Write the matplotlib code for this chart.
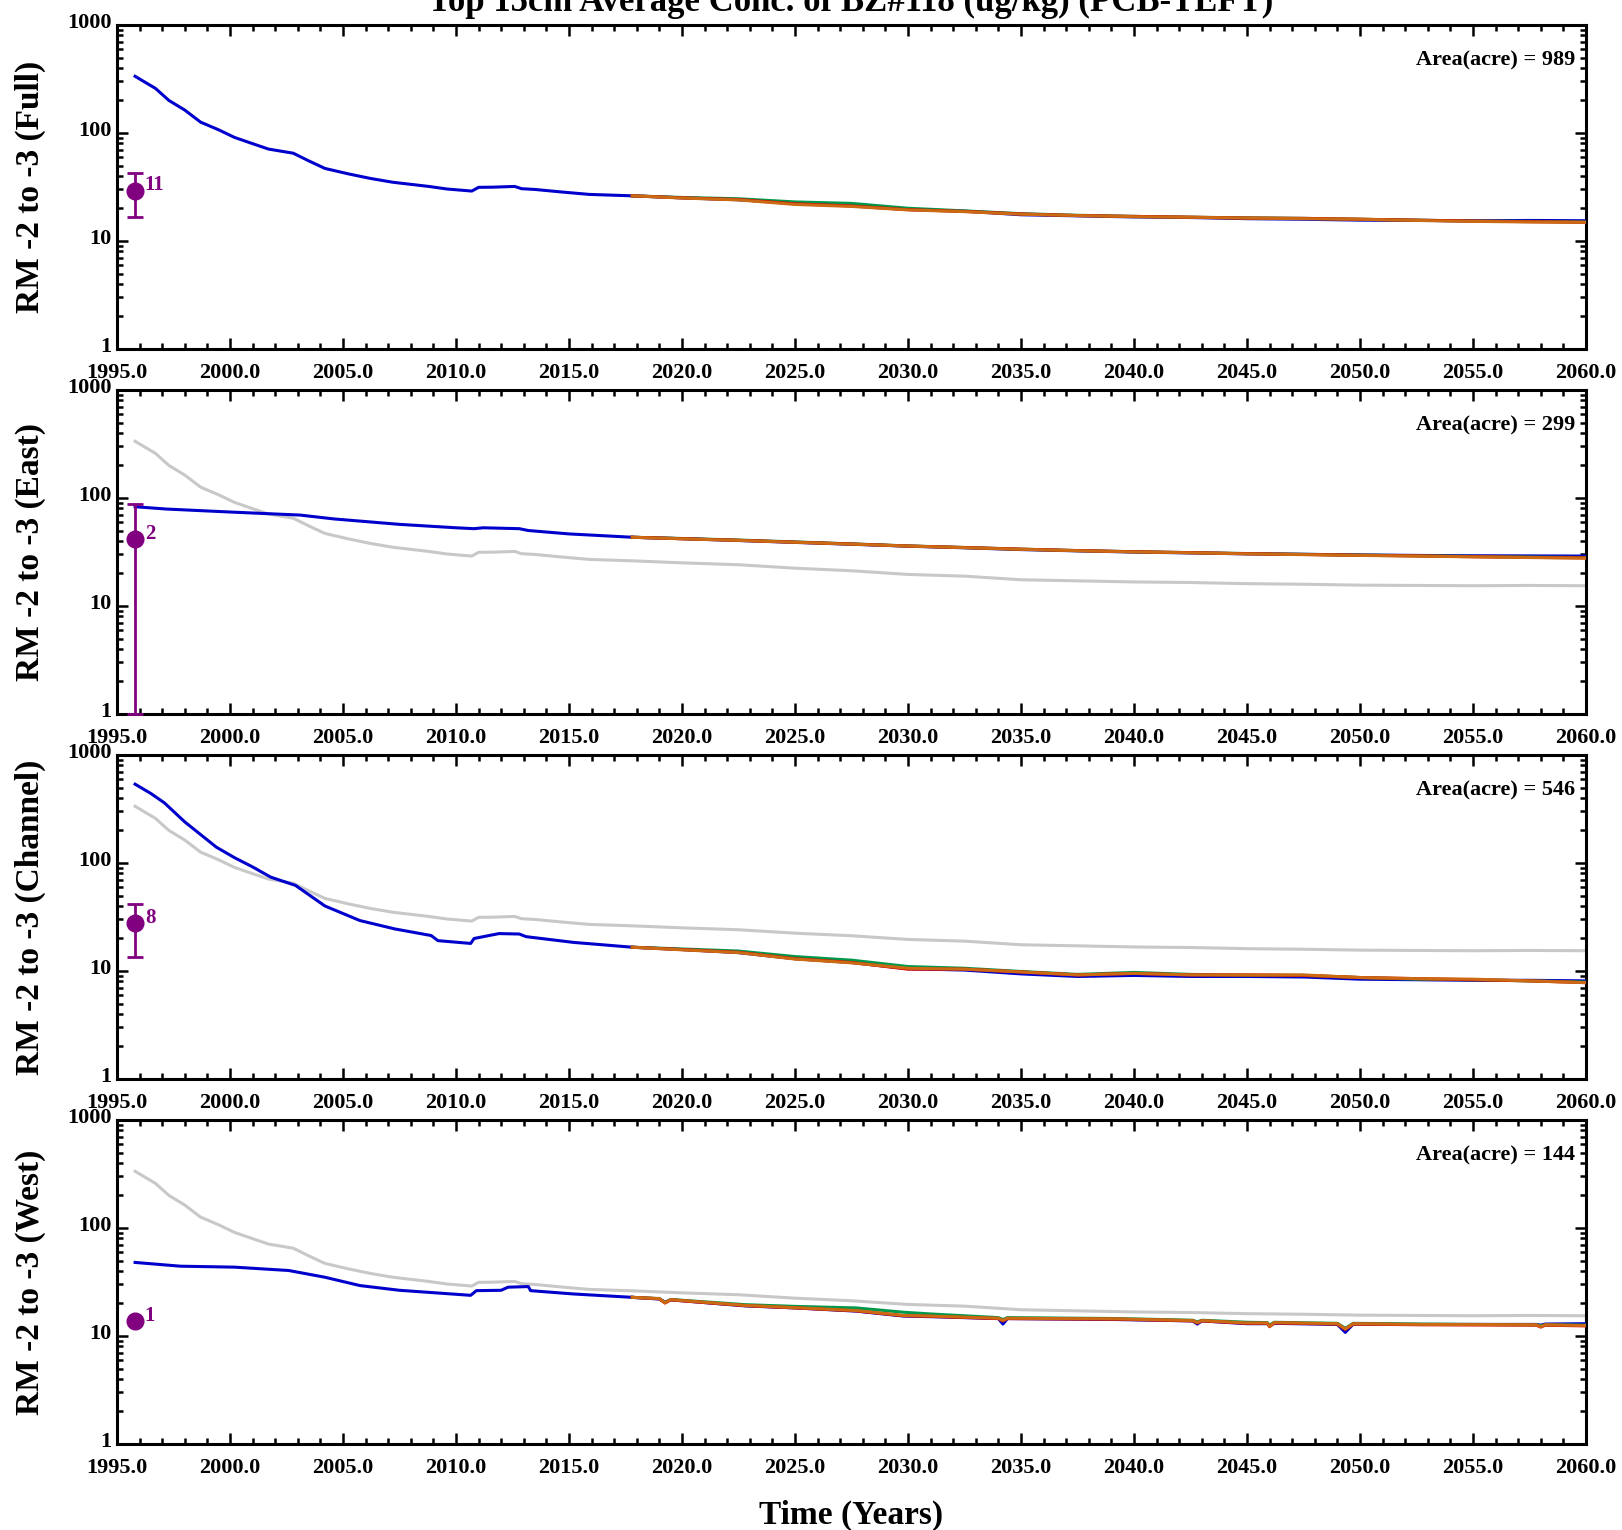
import matplotlib
matplotlib.use("Agg")
import matplotlib.pyplot as plt
import matplotlib.transforms as mtransforms
from matplotlib.ticker import MultipleLocator, FixedLocator, NullFormatter

plt.rcParams['font.family'] = ['Liberation Serif', 'DejaVu Serif']
plt.rcParams['font.weight'] = 'bold'

# --- data ---
full_hist_years = [1995.8, 1996.7, 1997.3, 1998.0, 1998.7, 1999.5, 2000.2, 2000.9, 2001.7, 2002.8,
                   2003.5, 2004.2, 2005.2, 2006.2, 2007.2, 2008.8, 2009.6, 2010.7, 2011.0, 2011.6,
                   2012.6, 2012.9, 2013.5, 2014.7, 2015.9, 2017.8]
full_hist = [335, 259, 200, 163, 126, 107, 91, 81, 71, 65,
             55, 47, 42, 38, 35, 32, 30.3, 29, 31.4, 31.5,
             32, 30.5, 30, 28.4, 27, 26.2]

east_hist_years = [1995.8, 1997.2, 2000.1, 2003.1, 2004.6, 2007.5, 2010.0, 2010.8, 2011.2, 2012.8,
                   2013.2, 2015.0, 2017.8]
east_hist = [83, 79, 74, 69.5, 64, 57, 53, 52, 53, 52, 50, 46.5, 43.3]

chan_hist_years = [1995.8, 1996.5, 1997.1, 1998.0, 1999.4, 2000.2, 2001.0, 2001.8, 2002.9, 2004.2,
                   2005.75, 2007.3, 2008.9, 2009.2, 2010.65, 2010.8, 2011.9, 2012.8, 2013.1, 2015.2,
                   2017.8]
chan_hist = [537, 440, 360, 240, 140, 112, 92, 74, 62, 40,
             29.3, 24.5, 21.3, 19.1, 18.0, 20.0, 22.2, 22.0, 20.8, 18.4,
             16.6]

west_hist_years = [1995.8, 1997.8, 2000.2, 2002.6, 2004.2, 2005.75, 2007.5, 2010.65, 2010.9, 2012.0,
                   2012.3, 2013.2, 2013.3, 2015.2, 2017.8]
west_hist = [48, 44.3, 43.4, 40.4, 35, 29.3, 26.5, 23.8, 26.3, 26.5,
             28.3, 28.7, 26.3, 24.5, 22.8]

proj_years = [2017.8, 2020.0, 2022.5, 2025.0, 2027.5, 2030.0, 2032.5, 2035.0, 2037.5, 2040.0,
              2042.5, 2045.0, 2047.5, 2050.0, 2052.5, 2055.0, 2057.5, 2060.0]

full_blue = [26.2, 25.1, 24.1, 22.4, 21.2, 19.6, 18.9, 17.5, 17.1, 16.7, 16.5, 16.1, 15.9, 15.6, 15.5, 15.4, 15.5, 15.4]
full_green = [26.2, 25.3, 24.6, 23.0, 22.3, 20.1, 19.0, 17.9, 17.3, 16.9, 16.6, 16.4, 16.2, 15.9, 15.6, 15.3, 15.2, 15.0]
full_red = [26.2, 25.1, 24.2, 22.1, 21.1, 19.5, 18.8, 17.8, 17.2, 16.9, 16.6, 16.3, 16.2, 15.9, 15.6, 15.3, 15.1, 14.9]
full_orange = [26.2, 25.0, 24.0, 21.8, 20.9, 19.4, 18.7, 17.7, 17.2, 16.8, 16.6, 16.3, 16.1, 15.9, 15.5, 15.2, 15.0, 14.9]

east_blue = [43.3, 42.0, 40.4, 38.8, 37.3, 35.8, 34.6, 33.3, 32.4, 31.6, 31.0, 30.4, 30.1, 29.7, 29.4, 29.2, 29.1, 29.0]
east_green = [43.3, 42.2, 40.8, 39.2, 37.6, 36.0, 34.8, 33.6, 32.6, 31.8, 31.2, 30.6, 30.1, 29.6, 29.2, 28.8, 28.4, 28.1]
east_red = [43.3, 42.0, 40.6, 39.0, 37.5, 35.9, 34.8, 33.6, 32.6, 31.8, 31.2, 30.5, 30.0, 29.5, 29.1, 28.6, 28.2, 27.9]
east_orange = [43.3, 41.9, 40.5, 38.9, 37.4, 35.9, 34.7, 33.5, 32.5, 31.7, 31.1, 30.4, 29.9, 29.4, 29.0, 28.5, 28.1, 27.7]

chan_blue = [16.6, 15.8, 14.8, 13.0, 12.0, 10.5, 10.2, 9.4, 8.9, 9.1, 8.9, 8.9, 8.8, 8.4, 8.3, 8.2, 8.2, 8.1]
chan_green = [16.6, 16.0, 15.3, 13.6, 12.6, 11.0, 10.6, 9.9, 9.3, 9.7, 9.3, 9.1, 9.1, 8.7, 8.4, 8.3, 8.1, 7.9]
chan_red = [16.6, 15.8, 14.9, 13.0, 12.0, 10.4, 10.4, 9.8, 9.2, 9.5, 9.2, 9.2, 9.1, 8.7, 8.5, 8.3, 8.1, 7.8]
chan_orange = [16.6, 15.7, 14.8, 12.9, 11.9, 10.6, 10.4, 9.8, 9.2, 9.5, 9.2, 9.2, 9.2, 8.7, 8.5, 8.4, 8.1, 7.8]

west_proj_years = [2017.8, 2019.0, 2019.25, 2019.5, 2022.8, 2025.0, 2027.7, 2029.8, 2031.0, 2034.0,
                   2034.2, 2034.4, 2039.3, 2042.6, 2042.8, 2043.0, 2045.0, 2045.9, 2046.0, 2046.2,
                   2049.0, 2049.35, 2049.7, 2052.7, 2057.8, 2058.0, 2058.2, 2060.0]
west_blue = [22.8, 22.0, 20.6, 21.6, 19.0, 18.2, 17.0, 15.3, 15.1, 14.5,
             12.9, 14.5, 14.2, 13.8, 12.9, 13.8, 13.0, 13.0, 12.4, 13.1,
             12.8, 10.8, 12.9, 12.8, 12.8, 12.6, 12.9, 13.0]
west_green = [22.8, 22.2, 20.4, 21.8, 19.5, 18.8, 18.2, 16.6, 16.0, 14.8,
              14.2, 14.8, 14.5, 14.0, 13.5, 14.0, 13.4, 13.3, 12.6, 13.4,
              13.1, 11.8, 13.1, 12.9, 12.7, 12.4, 12.7, 12.6]
west_red = [22.8, 22.1, 20.2, 21.6, 19.1, 18.2, 17.1, 15.4, 15.2, 14.5,
            13.8, 14.5, 14.3, 13.8, 13.2, 13.8, 13.1, 13.1, 12.2, 13.2,
            12.9, 11.5, 12.9, 12.7, 12.6, 12.1, 12.6, 12.4]
west_orange = [22.8, 22.2, 20.3, 21.7, 19.2, 18.3, 17.2, 15.5, 15.3, 14.6,
               13.9, 14.6, 14.4, 13.9, 13.3, 13.9, 13.2, 13.2, 12.3, 13.3,
               13.0, 11.6, 13.0, 12.8, 12.7, 12.2, 12.7, 12.5]

panel_names = ['Full', 'East', 'Channel', 'West']
areas = [989, 299, 546, 144]
obs_year = 1995.8
obs_val = [29.2, 41.6, 27.7, 13.7]
obs_lo = [16.6, 1.0, 13.6, None]
obs_hi = [42.4, 87.4, 41.3, None]
obs_n = [11, 2, 8, 1]

x_ticks = [1995, 2000, 2005, 2010, 2015, 2020, 2025, 2030, 2035, 2040, 2045, 2050, 2055, 2060]

BLUE = '#0000CC'
GREEN = '#00994C'
RED = '#DD0000'
ORANGE = '#CC6A14'
GRAY = '#C8C8C8'
PURPLE = '#800080'

panels = [
    (full_hist_years, full_hist, proj_years, [full_blue, full_green, full_red, full_orange]),
    (east_hist_years, east_hist, proj_years, [east_blue, east_green, east_red, east_orange]),
    (chan_hist_years, chan_hist, proj_years, [chan_blue, chan_green, chan_red, chan_orange]),
    (west_hist_years, west_hist, west_proj_years, [west_blue, west_green, west_red, west_orange]),
]

# grey reference line in the sub-area panels = the Full-area curve
ref_years = full_hist_years + proj_years[1:]
ref_vals = full_hist + full_blue[1:]

fig = plt.figure(figsize=(16.22, 15.30), dpi=100)

left, width = 117 / 1622, 1469 / 1622
tops = [25, 390, 755, 1120]
h_px = 324

for i, (hy, hv, py, proj) in enumerate(panels):
    bottom = 1 - (tops[i] + h_px) / 1530
    ax = fig.add_axes([left, bottom, width, h_px / 1530])
    ax.set_yscale('log')

    if i > 0:
        ax.plot(ref_years, ref_vals, color=GRAY, lw=2.2, zorder=2)
    ax.plot(hy, hv, color=BLUE, lw=2.2, zorder=3)
    for vals, c in zip(proj, [BLUE, GREEN, RED, ORANGE]):
        ax.plot(py, vals, color=c, lw=2.2, zorder=3)

    if obs_lo[i] is not None:
        err = [[obs_val[i] - obs_lo[i]], [obs_hi[i] - obs_val[i]]]
        ax.errorbar([obs_year], [obs_val[i]], yerr=err, fmt='o', color=PURPLE, ms=12,
                    elinewidth=2, capsize=6, capthick=2, zorder=5, clip_on=False)
    else:
        ax.plot([obs_year], [obs_val[i]], 'o', color=PURPLE, ms=12, zorder=5)
    ax.annotate(str(obs_n[i]), (obs_year, obs_val[i]), xytext=(7, 4), textcoords='offset points',
                ha='left', va='center', color=PURPLE, fontsize=15, fontweight='bold')

    ax.text(0.9925, 0.892, 'Area(acre) = %d' % areas[i], transform=ax.transAxes,
            ha='right', va='center', fontsize=16, fontweight='bold')

    ax.set_xlim(1995, 2060)
    ax.set_ylim(1, 1000)
    ax.xaxis.set_major_locator(FixedLocator(x_ticks))
    ax.xaxis.set_minor_locator(MultipleLocator(1))
    ax.set_xticklabels(['%.1f' % t for t in x_ticks])
    ax.yaxis.set_major_locator(FixedLocator([1, 10, 100, 1000]))
    ax.set_yticklabels(['1', '10', '100', '1000'])
    ax.yaxis.set_minor_locator(FixedLocator([m * d for d in [1, 10, 100] for m in range(2, 10)]))
    ax.yaxis.set_minor_formatter(NullFormatter())

    ax.tick_params(which='both', direction='in', top=True, right=True, width=1.8)
    ax.tick_params(which='major', length=8)
    ax.tick_params(which='minor', length=4.5)
    ax.tick_params(axis='x', which='major', pad=10, labelsize=16)
    ax.tick_params(axis='y', which='major', pad=4, labelsize=16)
    for s in ax.spines.values():
        s.set_linewidth(2.2)

    offset = mtransforms.ScaledTranslation(0, 3 / 72, fig.dpi_scale_trans)
    for lab in ax.get_yticklabels():
        lab.set_transform(lab.get_transform() + offset)

    ax.set_ylabel('RM -2 to -3 (%s)' % panel_names[i], fontsize=24, fontweight='bold')
    ax.yaxis.set_label_coords(-0.048, 0.5)

    if i == 3:
        ax.set_xlabel('Time (Years)', fontsize=24, fontweight='bold', labelpad=16)

fig.text(851 / 1622, 1 - 11 / 1530, 'Top 15cm Average Conc. of BZ#118 (ug/kg) (PCB-TEFT)',
         ha='center', va='baseline', fontsize=25, fontweight='bold')

fig.savefig('out.png', dpi=100)
